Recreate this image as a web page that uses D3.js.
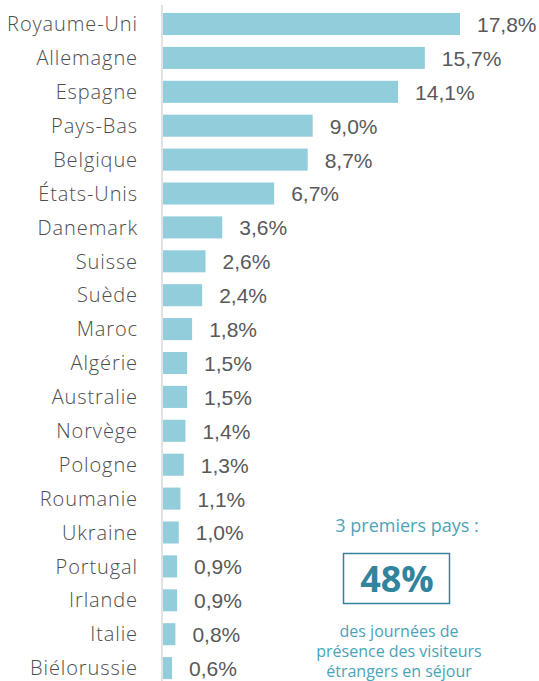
<!DOCTYPE html>
<html>
<head>
<meta charset="utf-8">
<script src="https://cdn.jsdelivr.net/npm/d3@7"></script>
<style>
  html, body { margin: 0; padding: 0; background: #fff; }
  svg { display: block; }
</style>
</head>
<body>
<div id="chart"></div>
<script>
// Share of foreign visitor days by country of origin (%)
const countries = ["Royaume-Uni", "Allemagne", "Espagne", "Pays-Bas", "Belgique", "États-Unis",
  "Danemark", "Suisse", "Suède", "Maroc", "Algérie", "Australie", "Norvège", "Pologne",
  "Roumanie", "Ukraine", "Portugal", "Irlande", "Italie", "Biélorussie"];
const shares = [17.8, 15.7, 14.1, 9.0, 8.7, 6.7, 3.6, 2.6, 2.4, 1.8, 1.5, 1.5, 1.4, 1.3,
  1.1, 1.0, 0.9, 0.9, 0.8, 0.6];
const calloutTitle = "3 premiers pays :";
const calloutValue = "48%";
const calloutLines = ["des journées de", "présence des visiteurs", "étrangers en séjour"];

const W = 539, H = 681;
const x0 = 162;
const fmt = v => d3.format(".1f")(v).replace(".", ",") + "%";

const svg = d3.select("#chart").append("svg")
  .attr("width", W).attr("height", H);

const x = d3.scaleLinear().domain([0, 17.8]).range([x0, 460]);
const y = d3.scaleBand().domain(countries).range([9.6, 682.5]).paddingInner(0.35).paddingOuter(0.1);

svg.append("g").selectAll("rect").data(countries).join("rect")
  .attr("x", x(0) + 1)
  .attr("y", d => y(d))
  .attr("width", (d, i) => x(shares[i]) - x(0) - 1)
  .attr("height", y.bandwidth())
  .attr("fill", "#92cddc");

svg.append("line")
  .attr("x1", x0).attr("x2", x0).attr("y1", 5).attr("y2", H)
  .attr("stroke", "#d9d9d9").attr("stroke-width", 1.5);

svg.append("g").selectAll("text").data(countries).join("text")
  .attr("x", x0 - 24)
  .attr("y", d => y(d) + y.bandwidth() / 2)
  .attr("dy", "0.36em")
  .attr("text-anchor", "end")
  .attr("font-family", "'Open Sans', sans-serif")
  .attr("font-weight", 300)
  .attr("font-size", 20)
  .attr("letter-spacing", 0.9)
  .attr("fill", "#4d4d4d")
  .text(d => d);

svg.append("g").selectAll("text").data(countries).join("text")
  .attr("x", (d, i) => x(shares[i]) + 17)
  .attr("y", d => y(d) + y.bandwidth() / 2)
  .attr("dy", "0.38em")
  .attr("font-family", "'Liberation Sans', Arial, sans-serif")
  .attr("font-size", 21)
  .attr("fill", "#595959")
  .text((d, i) => fmt(shares[i]));

// callout
svg.append("text")
  .attr("x", 407).attr("y", 532)
  .attr("text-anchor", "middle")
  .attr("font-family", "'Open Sans', sans-serif")
  .attr("font-size", 18)
  .attr("fill", "#4ba3b8")
  .text(calloutTitle);

svg.append("rect")
  .attr("x", 343.5).attr("y", 553.5).attr("width", 106).attr("height", 50)
  .attr("fill", "none").attr("stroke", "#31849b").attr("stroke-width", 1.5);

svg.append("text")
  .attr("x", 397).attr("y", 592)
  .attr("text-anchor", "middle")
  .attr("font-family", "'Open Sans', sans-serif")
  .attr("font-weight", 700)
  .attr("font-size", 36)
  .attr("fill", "#31849b")
  .text(calloutValue);

svg.append("g").selectAll("text").data(calloutLines).join("text")
  .attr("x", 399)
  .attr("y", (d, i) => 637 + i * 20)
  .attr("text-anchor", "middle")
  .attr("font-family", "'Open Sans', sans-serif")
  .attr("font-size", 16)
  .attr("fill", "#4ba3b8")
  .text(d => d);
</script>
</body>
</html>
